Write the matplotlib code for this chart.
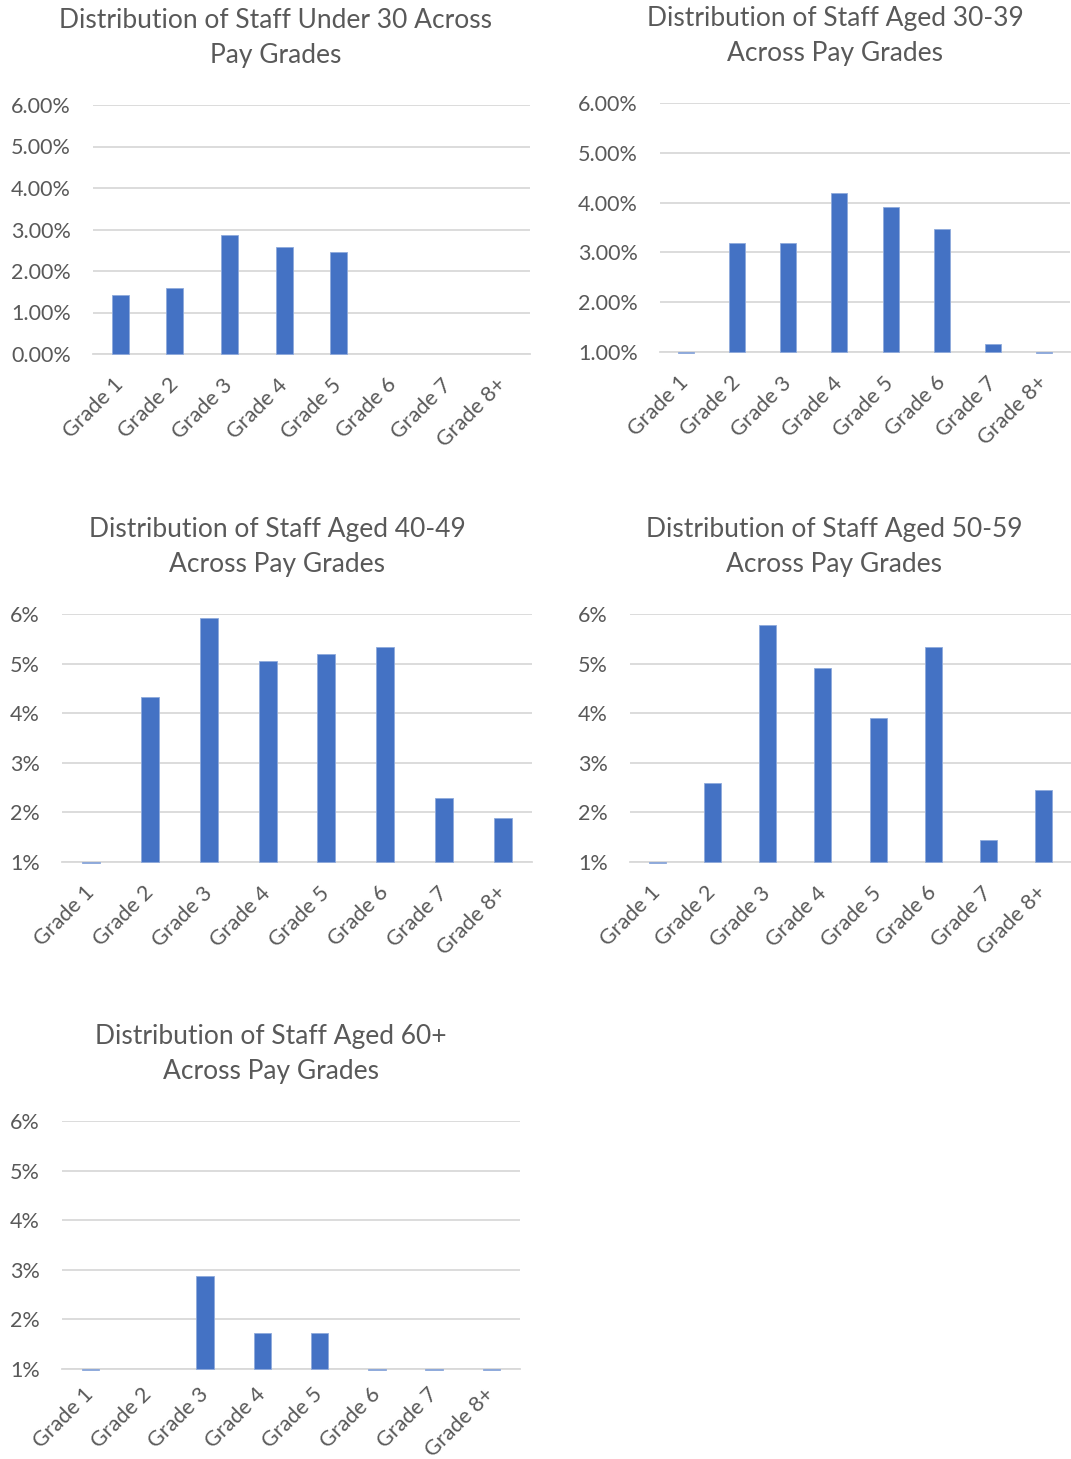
import numpy as np
import matplotlib
matplotlib.use('Agg')
import matplotlib.pyplot as plt
from matplotlib.ticker import FuncFormatter

plt.rcParams['font.family'] = ['Lato', 'DejaVu Sans']

grades = ['Grade 1', 'Grade 2', 'Grade 3', 'Grade 4', 'Grade 5', 'Grade 6', 'Grade 7', 'Grade 8+']

# percent values
under_30 = [1.43, 1.58, 2.87, 2.59, 2.46, 0.0, 0.0, 0.0]
aged_30_39 = [0.97, 3.18, 3.18, 4.19, 3.91, 3.47, 1.17, 0.97]
aged_40_49 = [0.98, 4.32, 5.92, 5.05, 5.20, 5.34, 2.30, 1.88]
aged_50_59 = [0.98, 2.60, 5.78, 4.91, 3.90, 5.34, 1.45, 2.45]
aged_60_plus = [0.98, 1.00, 2.88, 1.72, 1.72, 0.98, 0.98, 0.98]

titles = ['Distribution of Staff Under 30 Across\nPay Grades',
          'Distribution of Staff Aged 30-39\nAcross Pay Grades',
          'Distribution of Staff Aged 40-49\nAcross Pay Grades',
          'Distribution of Staff Aged 50-59\nAcross Pay Grades',
          'Distribution of Staff Aged 60+\nAcross Pay Grades']

W, H = 1071, 1459
bar_col = '#4472C4'
txt_col = '#595959'
grid_col = '#D9D9D9'

fig = plt.figure(figsize=(W / 100, H / 100), dpi=100)

# plot area boxes in pixels (x0, x1, y0, y1), title centre, baseline, label format, x label pad
panels = [
    (under_30, (93, 530, 105, 354), (276, 38), 0.0, '{:.2f}%', 20),
    (aged_30_39, (660, 1070, 103, 352), (835, 36), 1.0, '{:.2f}%', 20),
    (aged_40_49, (62, 532, 614, 862), (277, 547), 1.0, '{:.0f}%', 20),
    (aged_50_59, (630, 1071, 614, 862), (834, 547), 1.0, '{:.0f}%', 20),
    (aged_60_plus, (62, 520, 1121, 1369), (271, 1054), 1.0, '{:.0f}%', 16),
]

x = np.arange(len(grades))
for (vals, box, tpos, base, fmt, xpad), title in zip(panels, titles):
    x0, x1, y0, y1 = box
    ax = fig.add_axes([x0 / W, 1 - y1 / H, (x1 - x0) / W, (y1 - y0) / H])
    vals = np.array(vals)
    heights = vals - base
    edges = ['#8FAADC' if h != 0 else 'none' for h in heights]
    ax.bar(x, heights, bottom=base, width=0.31, color=bar_col,
           edgecolor=edges, linewidth=0.6, clip_on=False, zorder=3)
    ax.set_xlim(-0.5, len(grades) - 0.5)
    ax.set_ylim(base, 6)
    ax.set_yticks(np.arange(base, 6.01, 1))
    ax.yaxis.set_major_formatter(FuncFormatter(lambda v, p, f=fmt: f.format(v)))
    ax.grid(axis='y', color=grid_col, linewidth=1.3, zorder=0)
    for s in ['top', 'right', 'left']:
        ax.spines[s].set_visible(False)
    ax.spines['bottom'].set_color(grid_col)
    ax.spines['bottom'].set_linewidth(1.3)
    ax.spines['bottom'].set_zorder(1)
    ax.tick_params(axis='both', length=0, colors=txt_col, labelsize=15.5)
    ax.tick_params(axis='y', pad=16)
    ax.tick_params(axis='x', pad=xpad)
    ax.set_xticks(x)
    ax.set_xticklabels(grades, rotation=45, ha='right', va='center',
                       rotation_mode='anchor')
    fig.text(tpos[0] / W, 1 - tpos[1] / H, title, ha='center', va='center',
             fontsize=19, color=txt_col, linespacing=1.5)

fig.savefig('out.png', dpi=100, facecolor='white')
